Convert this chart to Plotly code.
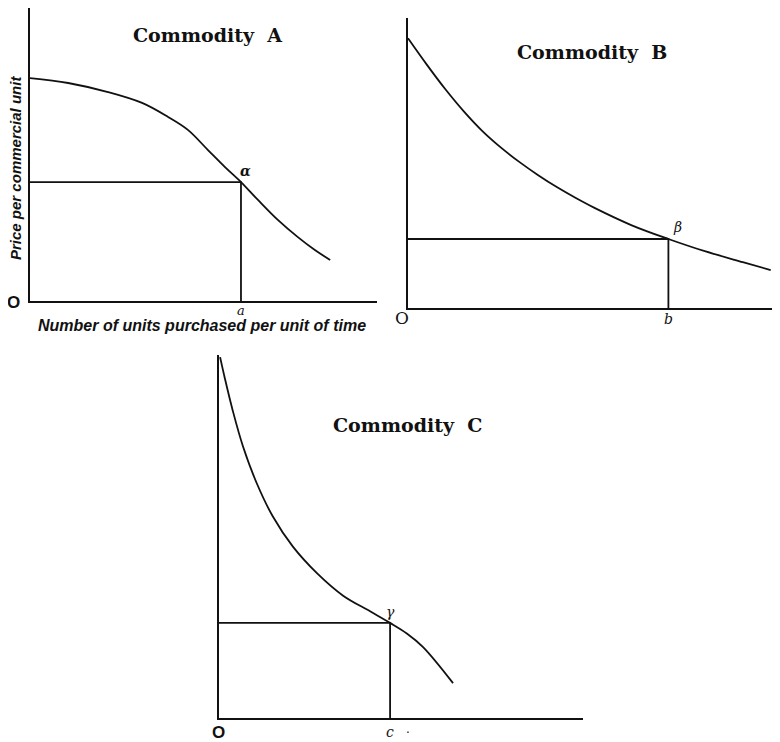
import plotly.graph_objects as go

W, H = 780, 742
OFF = 8  # page body margin around the plot div
FW, FH = W - OFF, H - OFF

# Commodity A: quantity vs price (arbitrary units, axes 0-10)
qty_a = [0, 1.1, 2.25, 3.23, 3.98, 4.55, 5.13, 5.62, 6.08, 6.57, 7.15, 7.72, 8.21, 8.65]
price_a = [7.61, 7.44, 7.13, 6.76, 6.28, 5.84, 5.15, 4.57, 4.06, 3.45, 2.76, 2.18, 1.74, 1.4]
qa, pa = 6.08, 4.06

# Commodity B
qty_b = [0, 0.5, 1, 1.5, 2, 2.5, 3, 3.5, 4, 4.5, 5, 6, 7, 8, 9, 9.75]
price_b = [9.3, 8.4, 7.55, 6.78, 6.1, 5.53, 5.03, 4.58, 4.17, 3.8, 3.46, 2.86, 2.38, 1.95, 1.58, 1.31]
qb, pb = 7.0, 2.38

# Commodity C
qty_c = [0.03, 0.16, 0.38, 0.66, 1.04, 1.48, 2.03, 2.69, 3.41, 4.15, 4.7, 5.16, 5.6, 6.43]
price_c = [9.94, 9.36, 8.46, 7.48, 6.46, 5.55, 4.72, 3.99, 3.37, 2.94, 2.62, 2.33, 1.96, 0.96]
qc, pc = 4.7, 2.62

titles = ["Commodity\u00a0\u00a0A", "Commodity\u00a0\u00a0B", "Commodity\u00a0\u00a0C"]
greek = ["<b>α</b>", "β", "γ"]
feet = ["a", "b", "c"]

# pixel boxes of each diagram in the page (left, right, top, bottom)
boxes = [(30, 377, 8, 301), (408, 780, 18, 308), (219, 583, 355, 718)]


def px(x):
    return (x - OFF) / FW


def py(y):
    return 1 - (y - OFF) / FH


fig = go.Figure()
ink = "#111111"
panels = [(qty_a, price_a, qa, pa), (qty_b, price_b, qb, pb), (qty_c, price_c, qc, pc)]

for i, (q, p, q0, p0) in enumerate(panels):
    n = "" if i == 0 else str(i + 1)
    xr, yr = "x" + n, "y" + n
    fig.add_trace(go.Scatter(x=q, y=p, mode="lines", line=dict(color=ink, width=1.8, shape="spline"),
                             xaxis=xr, yaxis=yr, hoverinfo="skip"))
    fig.add_trace(go.Scatter(x=[0, q0, q0], y=[p0, p0, 0], mode="lines", line=dict(color=ink, width=1.8),
                             xaxis=xr, yaxis=yr, hoverinfo="skip"))
    l, r, t, b = boxes[i]
    ax = dict(range=[0, 10], showgrid=False, zeroline=False, showticklabels=False, ticks="",
              showline=True, linecolor=ink, linewidth=2, fixedrange=True)
    fig.update_layout({
        "xaxis" + n: dict(ax, domain=[px(l), min(px(r), 1)], anchor=yr),
        "yaxis" + n: dict(ax, domain=[py(b), py(t)], anchor=xr),
    })

ann = []
# titles
for txt, (x, y) in zip(titles, [(208, 35), (592, 52), (408, 425)]):
    ann.append(dict(text=txt, x=px(x), y=py(y), xref="paper", yref="paper", showarrow=False,
                    xanchor="center", yanchor="middle",
                    font=dict(family="DejaVu Serif", size=19, color=ink, weight="bold")))

# point labels, foot labels and origins
greek_shift = [(5, 11), (9, 12), (0, 11)]
foot_shift = [-9, -11, -14]
origin_shift = [(-17, -1), (-6, -10), (-1, -14)]
origin_font = [("Liberation Sans", "bold"), ("DejaVu Serif", "normal"), ("Liberation Sans", "bold")]
for i, (q, p, q0, p0) in enumerate(panels):
    n = "" if i == 0 else str(i + 1)
    xr, yr = "x" + n, "y" + n
    ann.append(dict(text=greek[i], x=q0, y=p0, xref=xr, yref=yr, showarrow=False,
                    xanchor="center", yanchor="middle",
                    xshift=greek_shift[i][0], yshift=greek_shift[i][1],
                    font=dict(family="DejaVu Serif", size=14, color=ink, style="italic")))
    ann.append(dict(text=feet[i], x=q0, y=0, xref=xr, yref=yr, showarrow=False, yshift=foot_shift[i],
                    xanchor="center", yanchor="middle",
                    font=dict(family="DejaVu Serif", size=13 if i == 0 else 14, color=ink, style="italic")))
    ann.append(dict(text="O", x=0, y=0, xref=xr, yref=yr, showarrow=False,
                    xanchor="center", yanchor="middle",
                    xshift=origin_shift[i][0], yshift=origin_shift[i][1],
                    font=dict(family=origin_font[i][0], size=17, color=ink, weight=origin_font[i][1])))

ann.append(dict(text=".", x=px(408), y=py(729), xref="paper", yref="paper", showarrow=False,
                xanchor="center", yanchor="middle",
                font=dict(family="DejaVu Sans", size=12, color=ink)))

# axis titles of diagram A
ann.append(dict(text="Number of units purchased per unit of time", x=px(202), y=py(325),
                xref="paper", yref="paper", showarrow=False, xanchor="center", yanchor="middle",
                font=dict(family="Liberation Sans", size=16, color=ink, weight="bold", style="italic")))
ann.append(dict(text="Price per commercial unit", x=px(15), y=py(168), textangle=-90,
                xref="paper", yref="paper", showarrow=False, xanchor="center", yanchor="middle",
                font=dict(family="Liberation Sans", size=15, color=ink, weight="bold", style="italic")))

fig.update_layout(width=FW, height=FH, margin=dict(l=0, r=0, t=0, b=0), showlegend=False,
                  paper_bgcolor="white", plot_bgcolor="white", annotations=ann)

fig.write_html("out.html")
